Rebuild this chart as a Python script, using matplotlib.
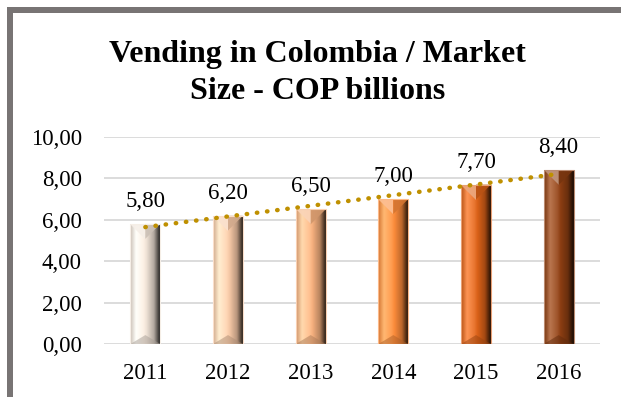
import numpy as np
import matplotlib
matplotlib.use("Agg")
import matplotlib.pyplot as plt
from matplotlib.colors import to_rgb
from matplotlib.patches import Rectangle, Polygon
from matplotlib.ticker import FuncFormatter

years = ["2011", "2012", "2013", "2014", "2015", "2016"]
values = [5.80, 6.20, 6.50, 7.00, 7.70, 8.40]
bar_colors = ["#EFE2D6", "#F6C8A6", "#F5B07E", "#FA8A3A", "#DA6118", "#8C3E12"]

plt.rcParams["font.family"] = ["Liberation Serif", "DejaVu Serif"]

fig = plt.figure(figsize=(6.21, 3.97), dpi=100)
fig.patch.set_facecolor("white")

# frame (gray border top and left)
fig.add_artist(Rectangle((7 / 621, 0), 6 / 621, 1 - 7 / 397, transform=fig.transFigure,
                         facecolor="#787474", edgecolor="none"))
fig.add_artist(Rectangle((7 / 621, 1 - 13 / 397), 1, 6 / 397, transform=fig.transFigure,
                         facecolor="#787474", edgecolor="none"))

ax = fig.add_axes([104 / 621, 1 - 344 / 397, 496 / 621, 207 / 397])
x = np.arange(len(years))
width = 0.36
bars = ax.bar(x, values, width=width, color=bar_colors, edgecolor="none", zorder=2)

# horizontal bevel gradient inside each bar
for b, c in zip(bars, bar_colors):
    base = np.array(to_rgb(c))
    light = np.clip(base * 1.12 + (1 - base) * 0.25, 0, 1)
    stops = [0.0, 0.2, 0.45, 0.55, 0.8, 1.0]
    cols = [base * 0.85,
            light,
            np.clip(base * 1.05 + (1 - base) * 0.1, 0, 1),
            base,
            base * 0.75,
            base * 0.18]
    n = 64
    t = np.linspace(0, 1, n)
    grad = np.zeros((1, n, 3))
    for k in range(3):
        grad[0, :, k] = np.interp(t, stops, [cc[k] for cc in cols])
    grad = np.clip(grad, 0, 1)
    x0, y0 = b.get_x(), b.get_y()
    w, h = b.get_width(), b.get_height()
    im = ax.imshow(grad, extent=[x0, x0 + w, y0, y0 + h], aspect="auto",
                   zorder=2.1, interpolation="bilinear")
    im.set_clip_path(b)
    # bevel: top and bottom triangles
    d = 0.72
    xc = x0 + w / 2
    ax.add_patch(Polygon([(x0, y0 + h), (xc, y0 + h), (xc, y0 + h - d)], closed=True,
                         facecolor=np.clip(base + (1 - base) * 0.45, 0, 1), edgecolor="none",
                         alpha=0.9, zorder=2.2))
    ax.add_patch(Polygon([(xc, y0 + h), (x0 + w, y0 + h), (xc, y0 + h - d)], closed=True,
                         facecolor=base * 0.85, edgecolor="none", alpha=0.9, zorder=2.2))
    ax.add_patch(Polygon([(x0, y0), (x0 + w, y0), (xc, y0 + d * 0.6)], closed=True,
                         facecolor=base * 0.7, edgecolor="none", alpha=0.5, zorder=2.2))
    ax.add_patch(Rectangle((x0, y0), w, h, facecolor="none",
                           edgecolor=np.clip(base + (1 - base) * 0.4, 0, 1),
                           linewidth=0.8, zorder=2.3))

# linear trendline
coef = np.polyfit(x, values, 1)
ax.plot(x, np.polyval(coef, x), linestyle=(0, (0.1, 2.2)), dash_capstyle="round",
        color="#BF9000", linewidth=3.2, zorder=3)

for xi, v in zip(x, values):
    ax.text(xi, v + 0.82, f"{v:.2f}".replace(".", ","), ha="center", va="baseline",
            fontsize=16.5, color="black", zorder=4)

ax.set_xlim(-0.5, len(years) - 0.5)
ax.set_ylim(0, 10)
ax.set_yticks(np.arange(0, 10.01, 2))
ax.yaxis.set_major_formatter(FuncFormatter(lambda v, p: f"{v:.2f}".replace(".", ",")))
ax.set_xticks(x)
ax.set_xticklabels(years)
ax.tick_params(axis="both", length=0, labelsize=16.5, colors="black")
ax.tick_params(axis="y", pad=16)
ax.tick_params(axis="x", pad=14)
ax.grid(axis="y", color="#D9D9D9", linewidth=1.3, zorder=0)
ax.set_axisbelow(True)
for s in ax.spines.values():
    s.set_visible(False)

fig.text(0.5 + 7 / 621, 1 - 99 / 397, "Vending in Colombia / Market\nSize - COP billions",
         ha="center", va="baseline", fontsize=23, fontweight="bold", linespacing=1.35)

fig.savefig("out.png", dpi=100)
